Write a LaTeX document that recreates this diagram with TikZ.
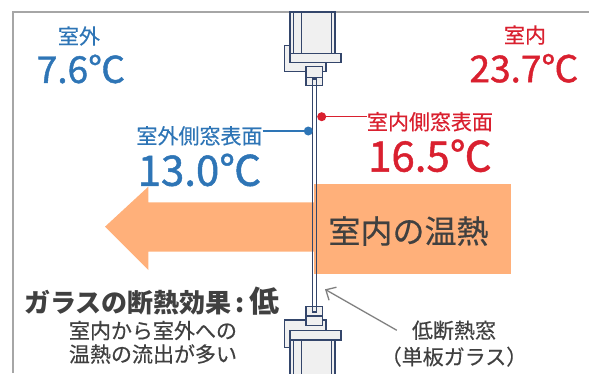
\documentclass[tikz,border=0pt]{standalone}
\usepackage{fontspec}
\setmainfont{Noto Sans CJK JP}
\newfontfamily\cifras[FakeBold=1.2]{Noto Sans CJK JP}
\newfontfamily\textos[FakeBold=0.4]{Noto Sans CJK JP}
\usetikzlibrary{arrows.meta}
\definecolor{azulfrio}{HTML}{2E75B6}
\definecolor{rojocalor}{HTML}{D9202F}
\definecolor{naranja}{HTML}{FFB07A}
\definecolor{textogris}{HTML}{404040}
\definecolor{marco}{HTML}{34466B}
\definecolor{relleno}{HTML}{F0F0F0}
\definecolor{borde}{HTML}{A6A6A6}
\definecolor{flechagris}{HTML}{808080}
\newcommand{\fsz}[1]{\fontsize{#1}{#1}\selectfont}

\begin{document}
\begin{tikzpicture}[x=1pt, y=-1pt, inner sep=0pt,
            pieza/.style ={draw=marco, fill=relleno, line width=1.5pt},
            linea/.style ={draw=marco, line width=1.5pt},
            etiqueta/.style ={font=\textos\fsz{21}},
            temp/.style ={font=\cifras\fsz{37}},
            tempsup/.style ={font=\cifras\fsz{42}},
            punto/.style ={circle, fill=#1, minimum size=9pt, inner sep=0pt}]

        \useasboundingbox (0,0) rectangle (589,373);

        %%--------------------------borde------------------------
        \draw[borde, line width=2pt] (13,373) -- (13,12) -- (589,12);

        %%--------------------------marco arriba-----------------
        \path[pieza] (284.3,45.7) rectangle (326,71.7);
        \path[pieza] (290,12) rectangle (335,53.3);
        \path[linea] (293.3,12) -- (293.3,53.3);
        \path[linea] (301.7,12) -- (301.7,53.3);
        \path[linea] (331.7,12) -- (331.7,53.3);
        \path[pieza] (290,53.3) rectangle (341,62.3);
        \path[pieza] (306,66.7) rectangle (322.7,77.3);
        \path[pieza] (306,77.3) rectangle (322.7,85.7);

        %%--------------------------marco abajo------------------
        \path[pieza] (284.3,320) rectangle (326,347.3);
        \path[pieza] (290,340) rectangle (335,380);
        \path[linea] (293.3,340) -- (293.3,380);
        \path[linea] (301.7,340) -- (301.7,380);
        \path[linea] (331.7,340) -- (331.7,380);
        \path[pieza] (290,330.7) rectangle (341,340);
        \path[pieza] (306,316) rectangle (322.7,325.7);
        \path[pieza] (306,306.7) rectangle (322.7,316);

        %%--------------------------flujo de calor---------------
        \fill[naranja] (105,226.7) -- (148.3,186.7) -- (148.3,202.3) -- (314,202.3)
            -- (314,251.7) -- (148.3,251.7) -- (148.3,270) -- cycle;
        \fill[naranja] (314,184) rectangle (510.7,274.3);

        % vidrio
        \path[linea, line width=1.3pt] (312.4,79) rectangle (316.6,312);

        %%--------------------------textos-----------------------
        \node[etiqueta, azulfrio] (outT) at (79,36) {室外};
        \node[temp, azulfrio] (outTemp) at (81,69) {7.6℃};
        \node[etiqueta, rojocalor] (inT) at (525,35) {室内};
        \node[temp, rojocalor] (inTemp) at (524,68.3) {23.7℃};

        \node[etiqueta, azulfrio] (outSurf) at (199.5,135.8) {室外側窓表面};
        \node[tempsup, azulfrio] (outSurfTemp) at (199.5,170) {13.0℃};
        \node[etiqueta, rojocalor] (inSurf) at (430,121.7) {室内側窓表面};
        \node[tempsup, rojocalor] (inSurfTemp) at (430,155.8) {16.5℃};

        \node[punto=azulfrio] (outDot) at (308.3,131) {};
        \node[punto=rojocalor] (inDot) at (321.7,116.7) {};

        \node[font=\textos\fsz{32}, textogris] (heat) at (408.5,231) {室内の温熱};

        \node[font=\fsz{26}\bfseries, textogris] (title) at (151.7,301.5)
            {ガラスの断熱効果\,:\,{\fsz{30}低}};
        \node[textogris, align=center, font=\textos\fontsize{21}{23.5}\selectfont]
            (flow) at (153,342.3) {室内から室外への\\温熱の流出が多い};

        \node[etiqueta, textogris] (winA) at (454,330.3) {低断熱窓};
        \node[etiqueta, textogris] (winB) at (454,356.7) {（単板ガラス）};
        \coordinate (glassPt) at (325,289.3);

        %%--------------------------conectores-------------------
        \path[azulfrio, line width=1.2pt] (outSurf.east |- outDot) edge (outDot);
        \path[rojocalor, line width=1.2pt] (inDot) edge (inSurf.west |- inDot);
        \draw[flechagris, line width=1.3pt, -{Straight Barb[length=8pt, width=15pt]}]
            ([xshift=-15pt]winA.west) -- (glassPt);

    \end{tikzpicture}
\end{document}
